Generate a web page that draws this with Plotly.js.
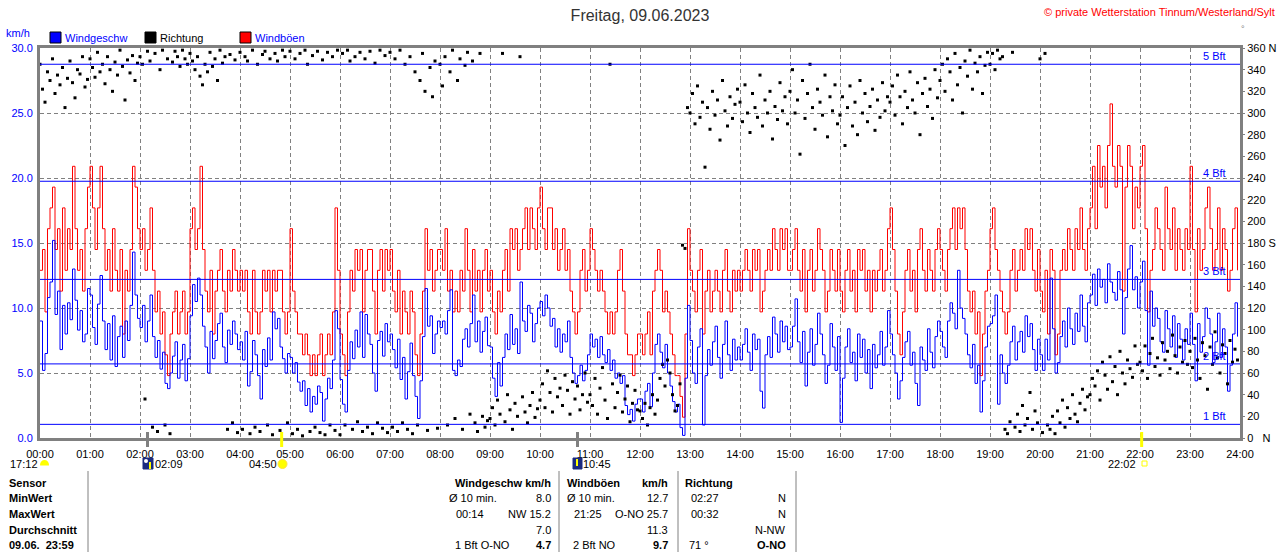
<!DOCTYPE html>
<html>
<head>
<meta charset="utf-8">
<script src="https://cdn.plot.ly/plotly-3.0.1.min.js"></script>
<style>
  body { margin: 0; background: #fff; }
  #chart { width: 1280px; height: 552px; }
</style>
</head>
<body>
<div id="chart"></div>
<script>
// Messwerte im 3-Minuten-Raster, eine Zeile pro Stunde (00:00 ... 23:57)
const wind = [
  9.0, 5.2, 6.5, 10.8, 12.0, 15.2, 9.5, 11.3, 6.8, 10.2, 8.0, 10.4, 9.1, 13.0, 10.6, 8.3, 9.8, 7.4, 8.0, 11.5,
  11.0, 8.5, 7.2, 10.3, 12.5, 9.0, 6.8, 8.8, 6.0, 9.4, 5.5, 7.8, 8.6, 6.2, 9.0, 7.5, 10.2, 14.3, 11.0, 9.2,
  8.5, 10.2, 7.4, 9.0, 11.0, 7.8, 6.2, 7.5, 5.3, 6.6, 4.2, 3.8, 5.0, 6.3, 7.4, 4.6, 6.0, 7.2, 4.4, 6.1,
  9.4, 11.8, 10.5, 12.3, 11.0, 8.6, 7.0, 5.0, 8.2, 6.1, 7.5, 8.8, 9.6, 7.0, 5.8, 8.3, 7.2, 9.0, 8.0, 6.8,
  7.4, 6.0, 8.2, 4.0, 5.1, 7.5, 6.4, 4.8, 3.0, 6.8, 5.5, 7.7, 6.0, 9.7, 8.4, 9.2, 7.0, 6.1, 5.0, 6.5,
  6.2, 5.0, 5.8, 4.3, 3.6, 4.4, 2.5, 3.8, 2.0, 3.2, 2.6, 4.0, 3.5, 1.3, 3.0, 4.6, 3.8, 6.0, 9.8, 8.4,
  4.5, 2.6, 2.0, 5.2, 7.4, 6.1, 8.3, 7.0, 9.7, 6.2, 9.5, 8.0, 7.2, 5.0, 3.6, 7.5, 8.2, 6.3, 8.8, 7.4,
  8.0, 6.8, 5.4, 7.6, 4.5, 6.2, 3.0, 5.1, 7.3, 4.8, 3.2, 1.5, 4.4, 7.8, 11.5, 8.6, 9.4, 6.5, 8.0, 9.0,
  8.5, 9.0, 8.0, 9.8, 11.4, 5.2, 4.8, 6.0, 5.5, 7.6, 8.4, 7.0, 8.8, 11.0, 7.4, 9.0, 6.6, 8.2, 9.3, 7.1,
  7.0, 4.6, 3.2, 5.8, 4.0, 6.2, 8.0, 6.8, 9.5, 7.2, 8.4, 6.5, 12.0, 9.0, 8.2, 10.2, 9.6, 7.4, 8.8, 10.0,
  10.5, 9.4, 11.0, 10.0, 8.6, 9.2, 7.0, 8.4, 6.6, 8.0, 7.4, 9.0, 6.2, 5.0, 4.2, 4.8, 5.6, 4.4, 5.2, 6.4,
  8.0, 7.0, 7.6, 6.2, 7.8, 6.4, 5.8, 6.8, 5.2, 6.0, 4.6, 5.0, 4.2, 4.8, 2.5, 1.8, 2.2, 1.3, 2.6, 3.0,
  3.0, 2.0, 3.6, 4.2, 2.4, 5.0, 7.2, 8.0, 6.6, 5.4, 7.2, 5.0, 4.0, 2.8, 2.0, 2.6, 0.8, 0.2, 4.6, 10.2,
  7.5, 5.0, 4.2, 7.0, 8.4, 1.0, 4.8, 6.8, 5.6, 7.4, 8.6, 6.2, 4.6, 7.2, 9.0, 6.4, 5.2, 7.6, 6.0, 7.0,
  6.0, 7.2, 8.4, 6.6, 5.2, 8.0, 6.8, 7.6, 3.6, 2.3, 6.4, 7.8, 6.2, 9.3, 8.0, 6.6, 9.0, 7.4, 8.6, 6.8,
  7.0, 8.6, 10.7, 7.4, 5.8, 8.2, 4.0, 6.6, 8.4, 5.6, 7.2, 9.6, 8.0, 6.4, 4.2, 5.6, 8.8, 7.0, 5.2, 7.8,
  1.2, 4.6, 7.0, 8.4, 5.8, 6.6, 4.4, 8.0, 6.2, 7.6, 5.0, 6.8, 3.8, 7.2, 5.4, 6.4, 8.2, 5.6, 7.0, 9.8,
  8.0, 6.4, 5.0, 3.0, 4.4, 6.2, 7.4, 8.2, 5.6, 6.6, 4.2, 2.5, 7.0, 6.0, 5.2, 8.4, 6.6, 5.4, 7.8, 9.0,
  8.2, 7.0, 6.2, 9.0, 10.4, 9.6, 8.4, 12.9, 10.0, 9.2, 8.0, 6.4, 5.4, 7.2, 4.2, 5.6, 2.0, 4.4, 7.0, 8.6,
  8.8, 9.4, 11.0, 2.6, 6.4, 5.0, 4.2, 5.6, 7.4, 8.6, 6.0, 7.4, 8.2, 6.6, 9.4, 7.8, 8.8, 6.8, 5.2, 7.6,
  6.4, 5.2, 7.6, 6.0, 12.3, 8.4, 5.0, 5.8, 7.8, 9.0, 7.0, 10.0, 8.4, 7.2, 9.6, 8.2, 11.0, 8.6, 7.4, 10.4,
  11.0, 12.6, 10.2, 13.0, 11.6, 12.2, 10.4, 13.4, 12.0, 11.2, 10.6, 12.8, 11.4, 8.0, 10.8, 13.0, 14.8, 11.4, 12.4, 10.0,
  12.0, 13.6, 9.8, 5.6, 11.3, 8.6, 10.0, 9.2, 7.4, 6.6, 9.8, 8.4, 7.0, 9.4, 6.2, 8.8, 7.6, 6.0, 8.4, 7.2,
  9.6, 7.2, 4.4, 8.8, 6.6, 7.8, 10.0, 9.2, 8.0, 5.8, 7.4, 9.6, 6.2, 8.4, 7.0, 3.6, 5.6, 8.0, 10.4, 7.8
];

const gust = [
  12.9, 14.5, 9.7, 16.1, 17.7, 19.3, 14.5, 16.1, 11.3, 17.7, 12.9, 16.1, 14.5, 20.9, 16.1, 12.9, 14.5, 11.3, 16.1, 19.3,
  20.9, 17.7, 14.5, 17.7, 20.9, 16.1, 12.9, 14.5, 11.3, 16.1, 12.9, 11.3, 14.5, 8.0, 12.9, 11.3, 14.5, 20.9, 19.3, 16.1,
  14.5, 16.1, 12.9, 14.5, 17.7, 12.9, 9.7, 11.3, 8.0, 9.7, 6.4, 4.8, 8.0, 9.7, 11.3, 8.0, 9.7, 11.3, 8.0, 9.7,
  16.1, 17.7, 14.5, 16.1, 20.9, 14.5, 11.3, 9.7, 12.9, 8.0, 11.3, 12.9, 14.5, 11.3, 9.7, 12.9, 11.3, 14.5, 12.9, 11.3,
  12.9, 11.3, 12.9, 9.7, 8.0, 12.9, 9.7, 8.0, 9.7, 12.9, 11.3, 12.9, 9.7, 12.9, 11.3, 12.9, 12.9, 9.7, 8.0, 9.7,
  16.1, 11.3, 9.7, 8.0, 8.0, 6.4, 8.0, 6.4, 4.8, 6.4, 4.8, 6.4, 8.0, 4.8, 6.4, 8.0, 6.4, 9.7, 17.7, 12.9,
  8.0, 6.4, 4.8, 9.7, 12.9, 11.3, 14.5, 12.9, 14.5, 9.7, 12.9, 14.5, 14.5, 11.3, 8.0, 12.9, 14.5, 11.3, 14.5, 12.9,
  14.5, 11.3, 9.7, 12.9, 8.0, 11.3, 9.7, 8.0, 11.3, 9.7, 6.4, 4.8, 8.0, 11.3, 16.1, 12.9, 14.5, 11.3, 12.9, 14.5,
  14.5, 12.9, 16.1, 11.3, 12.9, 9.7, 11.3, 9.7, 12.9, 11.3, 16.1, 12.9, 9.7, 14.5, 11.3, 12.9, 9.7, 12.9, 14.5, 11.3,
  12.9, 9.7, 8.0, 11.3, 9.7, 12.9, 14.5, 11.3, 16.1, 14.5, 16.1, 12.9, 14.5, 16.1, 17.7, 14.5, 17.7, 16.1, 14.5, 17.7,
  19.3, 16.1, 14.5, 17.7, 17.7, 14.5, 16.1, 12.9, 14.5, 16.1, 12.9, 14.5, 11.3, 9.7, 8.0, 9.7, 12.9, 14.5, 11.3, 12.9,
  16.1, 14.5, 12.9, 11.3, 12.9, 11.3, 9.7, 8.0, 9.7, 8.0, 9.7, 12.9, 14.5, 11.3, 8.0, 6.4, 6.4, 4.8, 6.4, 8.0,
  8.0, 6.4, 8.0, 9.7, 6.4, 11.3, 12.9, 14.5, 12.9, 9.7, 11.3, 9.7, 8.0, 6.4, 4.8, 4.8, 3.2, 1.6, 8.0, 16.1,
  12.9, 11.3, 9.7, 12.9, 14.5, 8.0, 11.3, 12.9, 9.7, 11.3, 12.9, 11.3, 9.7, 12.9, 14.5, 11.3, 9.7, 12.9, 11.3, 12.9,
  11.3, 12.9, 14.5, 12.9, 11.3, 14.5, 12.9, 14.5, 9.7, 11.3, 12.9, 14.5, 12.9, 16.1, 14.5, 12.9, 16.1, 14.5, 16.1, 12.9,
  12.9, 14.5, 16.1, 12.9, 11.3, 14.5, 9.7, 12.9, 14.5, 11.3, 12.9, 16.1, 14.5, 12.9, 9.7, 11.3, 14.5, 12.9, 11.3, 14.5,
  11.3, 9.7, 12.9, 14.5, 11.3, 12.9, 9.7, 14.5, 12.9, 14.5, 11.3, 12.9, 9.7, 12.9, 11.3, 12.9, 14.5, 11.3, 12.9, 16.1,
  17.7, 14.5, 11.3, 8.0, 6.4, 9.7, 12.9, 14.5, 11.3, 12.9, 9.7, 14.5, 16.1, 12.9, 11.3, 14.5, 12.9, 11.3, 14.5, 16.1,
  14.5, 12.9, 11.3, 14.5, 16.1, 17.7, 14.5, 17.7, 16.1, 17.7, 14.5, 11.3, 9.7, 11.3, 8.0, 9.7, 4.8, 8.0, 11.3, 12.9,
  16.1, 17.7, 14.5, 12.9, 11.3, 9.7, 8.0, 9.7, 12.9, 14.5, 11.3, 12.9, 14.5, 12.9, 16.1, 14.5, 16.1, 12.9, 11.3, 14.5,
  11.3, 9.7, 12.9, 8.0, 14.5, 12.9, 6.4, 8.0, 12.9, 14.5, 12.9, 16.1, 14.5, 12.9, 16.1, 14.5, 17.7, 14.5, 12.9, 16.1,
  17.7, 20.9, 16.1, 22.5, 19.3, 20.9, 17.7, 22.5, 25.7, 20.9, 19.3, 22.5, 20.9, 11.3, 19.3, 22.5, 20.9, 16.1, 19.3, 17.7,
  20.9, 22.5, 16.1, 9.7, 12.9, 14.5, 17.7, 16.1, 14.5, 12.9, 19.3, 16.1, 14.5, 17.7, 12.9, 16.1, 14.5, 12.9, 16.1, 14.5,
  20.9, 14.5, 9.7, 16.1, 12.9, 14.5, 17.7, 19.3, 16.1, 12.9, 14.5, 17.7, 12.9, 16.1, 14.5, 11.3, 12.9, 16.1, 17.7, 12.9
];

// Windrichtung in Grad, gleiches Raster
const richtung = [
  345, 322, 310, 338, 330, 350, 318, 335, 326, 342, 305, 332, 348, 328, 314, 340, 336, 352, 324, 331,
  350, 342, 333, 356, 338, 345, 327, 352, 340, 320, 347, 335, 358, 343, 312, 349, 337, 353, 330, 346,
  352, 345, 36, 357, 348, 10, 355, 6, 340, 358, 12, 350, 4, 347, 357, 352, 343, 358, 350, 345,
  355, 348, 340, 352, 334, 326, 345, 338, 356, 343, 350, 330, 358, 346, 352, 8, 354, 14, 349, 5,
  356, 8, 352, 348, 4, 358, 10, 345, 6, 354, 357, 12, 350, 3, 355, 348, 7, 358, 352, 14,
  357, 4, 350, 8, 355, 2, 358, 345, 6, 353, 10, 357, 5, 349, 3, 356, 12, 352, 7, 358,
  3, 355, 12, 358, 348, 8, 352, 15, 356, 6, 350, 10, 357, 4, 346, 14, 358, 9, 353, 5,
  356, 10, 350, 6, 358, 14, 345, 8, 352, 4, 338, 12, 330, 355, 320, 7, 342, 315, 348, 9,
  345, 325, 352, 12, 338, 358, 18, 330, 350, 8, 344, 356, 22, 348, 14, 6, 355, 20, 10, 16,
  18, 28, 12, 35, 22, 355, 15, 40, 26, 8, 32, 20, 352, 38, 24, 14, 30, 42, 19, 27,
  35, 50, 28, 62, 42, 24, 55, 38, 46, 30, 58, 44, 22, 52, 36, 48, 26, 40, 60, 33,
  40, 30, 55, 22, 46, 65, 35, 18, 345, 50, 28, 42, 58, 24, 36, 48, 15, 32, 44, 26,
  25, 18, 32, 12, 28, 40, 22, 35, 55, 68, 48, 72, 60, 40, 25, 30, 50, 178, 175, 305,
  300, 318, 290, 325, 296, 310, 250, 305, 285, 320, 298, 312, 275, 330, 302, 288, 315, 295, 308, 322,
  310, 292, 326, 300, 282, 318, 305, 296, 335, 288, 312, 300, 320, 276, 306, 294, 328, 302, 315, 290,
  320, 340, 300, 312, 262, 330, 295, 318, 345, 305, 285, 322, 310, 298, 335, 278, 315, 302, 326, 290,
  298, 315, 270, 305, 325, 288, 310, 280, 330, 300, 318, 292, 306, 322, 284, 312, 296, 328, 302, 315,
  310, 325, 298, 335, 315, 290, 320, 305, 338, 312, 300, 328, 280, 318, 332, 306, 322, 295, 340, 314,
  330, 345, 320, 350, 338, 312, 355, 326, 342, 300, 348, 334, 358, 322, 346, 338, 352, 318, 344, 356,
  345, 355, 340, 358, 350, 352, 8, 4, 15, 356, 10, 22, 6, 30, 12, 18, 42, 8, 25, 14,
  350, 5, 355, 12, 8, 20, 4, 25, 14, 35, 10, 28, 18, 40, 22, 15, 32, 45, 26, 38,
  40, 55, 48, 62, 35, 70, 58, 45, 75, 52, 66, 40, 80, 60, 50, 72, 64, 56, 85, 68,
  70, 62, 85, 55, 78, 92, 66, 74, 58, 88, 72, 80, 64, 95, 76, 60, 84, 70, 90, 68,
  80, 65, 92, 72, 55, 88, 76, 45, 84, 68, 98, 74, 60, 86, 78, 50, 90, 70, 82, 72
];

const stunden = ["00:00", "01:00", "02:00", "03:00", "04:00", "05:00", "06:00", "07:00", "08:00",
  "09:00", "10:00", "11:00", "12:00", "13:00", "14:00", "15:00", "16:00", "17:00", "18:00",
  "19:00", "20:00", "21:00", "22:00", "23:00", "24:00"];
const gradTicks = [0, 20, 40, 60, 80, 100, 120, 140, 160, 180, 200, 220, 240, 260, 280, 300, 320, 340, 360];
const gradLabels = ["0   N", "20", "40", "60", "80", "100", "120", "140", "160", "180 S", "200", "220",
  "240", "260", "280", "300", "320", "340", "360 N"];

// Beaufort-Grenzen in km/h
const bftWerte = [1.05, 5.7, 12.2, 19.75, 28.75];
const bftNamen = ["1 Bft", "2 Bft", "3 Bft", "4 Bft", "5 Bft"];

// Sonne / Mond (Stunde, Text)
const mondAuf = [17.2, "17:12"];
const mondUnter1 = [2.15, "02:09"];
const sonneAuf = [4.833, "04:50"];
const mondUnter2 = [10.75, "10:45"];
const sonneUnter = [22.033, "22:02"];

// Tabelle unten
const zeilen = ["Sensor", "MinWert", "MaxWert", "Durchschnitt", "09.06.  23:59"];
const windTab = [["Ø 10 min.", "8.0"], ["00:14", "NW 15.2"], ["", "7.0"], ["1 Bft O-NO", "<b>4.7</b>"]];
const boeTab = [["Ø 10 min.", "12.7"], ["21:25", "O-NO 25.7"], ["", "11.3"], ["2 Bft NO", "<b>9.7</b>"]];
const richtTab = [["02:27", "N"], ["00:32", "N"], ["", "N-NW"], ["71 °", "<b>O-NO</b>"]];

const zeit = wind.map((v, i) => i * 3 / 60);

const FONT = "Liberation Sans, Arial, sans-serif";
const BLAU = "#0000ff";
const ROT = "#ff0000";
const GRAU = "#808080";

// Pixel -> Papierkoordinaten (Plotfläche 40..1240 x 48..438)
const PX = px => (px - 40) / 1200;
const PY = py => (438 - py) / 390;

let annotations = [];
let shapes = [];

const txt = (text, px, py, anchor, color, size) => {
  annotations.push({
    text: text, x: PX(px), y: PY(py), xref: "paper", yref: "paper",
    xanchor: anchor, yanchor: "middle", showarrow: false, borderpad: 0,
    font: { family: FONT, size: size || 11, color: color || "#000" }
  });
};

const rect = (x0, y0, x1, y1, fill, line) => {
  shapes.push({
    type: "rect", xref: "paper", yref: "paper",
    x0: PX(x0), x1: PX(x1), y0: PY(y0), y1: PY(y1),
    fillcolor: fill, line: { color: line || fill, width: 1 }, layer: "above"
  });
};

// Kopf und Legende
txt("© private Wetterstation Tinnum/Westerland/Sylt", 1276, 12, "right", ROT, 11);
txt("°", 1243, 29, "center", GRAU, 9);
txt("km/h", 5, 33, "left", BLAU, 11);
rect(50, 32, 61, 43, BLAU, "#000");
txt("Windgeschw", 64, 38, "left", BLAU, 11);
rect(145, 32, 156, 43, "#000", "#000");
txt("Richtung", 159, 38, "left", "#000", 11);
rect(240, 32, 251, 43, ROT, "#000");
txt("Windböen", 254, 38, "left", BLAU, 11);

// Beaufort-Linien
bftWerte.forEach((b, i) => {
  shapes.push({
    type: "line", xref: "paper", yref: "y", x0: 0, x1: 1, y0: b, y1: b,
    line: { color: BLAU, width: 1 }, layer: "above"
  });
  annotations.push({
    text: bftNamen[i], x: PX(1227), y: b, xref: "paper", yref: "y",
    xanchor: "right", yanchor: "bottom", yshift: 1, showarrow: false, borderpad: 0,
    font: { family: FONT, size: 11, color: BLAU }
  });
});

// Markierungen an der Zeitachse
const marke = (h, color) => {
  shapes.push({
    type: "line", xref: "x", yref: "paper", x0: h, x1: h, y0: PY(432), y1: PY(447),
    line: { color: color, width: 3 }, layer: "above"
  });
};
marke(mondUnter1[0], GRAU);
marke(sonneAuf[0], "#ffff00");
marke(mondUnter2[0], GRAU);
marke(sonneUnter[0], "#ffff00");

// Sonne / Mond Zeile
txt(mondAuf[1], 9, 464, "left");
shapes.push({ type: "circle", xref: "paper", yref: "paper", x0: PX(40), x1: PX(49), y0: PY(460), y1: PY(470),
  fillcolor: "#ffff00", line: { width: 0 }, layer: "above" });
rect(39, 466, 50, 471, "#fff", "#fff");
rect(143, 458, 153, 469, "#1a2a80", "#1a2a80");
shapes.push({ type: "circle", xref: "paper", yref: "paper", x0: PX(144), x1: PX(148), y0: PY(459), y1: PY(463),
  fillcolor: "#fff", line: { width: 0 }, layer: "above" });
shapes.push({ type: "line", xref: "paper", yref: "paper", x0: PX(150), x1: PX(150), y0: PY(462), y1: PY(469),
  line: { color: "#ffff00", width: 2 }, layer: "above" });
txt(mondUnter1[1], 154, 464, "left");
txt(sonneAuf[1], 278, 464, "right");
shapes.push({ type: "circle", xref: "paper", yref: "paper", x0: PX(278), x1: PX(287), y0: PY(459.5), y1: PY(468.5),
  fillcolor: "#ffff00", line: { color: "#ffe040", width: 1 }, layer: "above" });
rect(573, 458, 582, 469, "#1a2a80", "#1a2a80");
shapes.push({ type: "line", xref: "paper", yref: "paper", x0: PX(577), x1: PX(577), y0: PY(459), y1: PY(466),
  line: { color: "#ffff00", width: 2 }, layer: "above" });
txt(mondUnter2[1], 582, 464, "left");
txt(sonneUnter[1], 1137, 464, "right");
rect(1142, 461, 1147, 466, "#fff", "#ffff00");

// Tabelle
[88, 559, 678, 796].forEach(x => {
  shapes.push({ type: "line", xref: "paper", yref: "paper", x0: PX(x), x1: PX(x), y0: PY(471), y1: PY(553),
    line: { color: GRAU, width: 1 }, layer: "above" });
});
const zeilenY = [483, 498.5, 514, 529.5, 544.5];
zeilen.forEach((z, i) => txt("<b>" + z + "</b>", 8, zeilenY[i], "left"));
txt("<b>Windgeschw km/h</b>", 552, zeilenY[0], "right");
txt("<b>Windböen</b>", 566, zeilenY[0], "left");
txt("<b>km/h</b>", 669, zeilenY[0], "right");
txt("<b>Richtung</b>", 684, zeilenY[0], "left");
const linksX = [[448, 455, 448, 454], [566, 573, 566, 572], [690, 690, 690, 688]];
[windTab, boeTab, richtTab].forEach((tab, c) => {
  const rechts = [552, 669, 787][c];
  tab.forEach((r, i) => {
    if (r[0]) txt(r[0], linksX[c][i], zeilenY[i + 1], "left");
    txt(r[1], rechts, zeilenY[i + 1], "right");
  });
});

const data = [
  {
    x: zeit, y: gust, type: "scatter", mode: "lines", name: "Windböen",
    line: { color: ROT, width: 1, shape: "hv" }
  },
  {
    x: zeit, y: wind, type: "scatter", mode: "lines", name: "Windgeschw",
    line: { color: BLAU, width: 1, shape: "hv" }
  },
  {
    x: zeit, y: richtung, type: "scatter", mode: "markers", name: "Richtung", yaxis: "y2",
    marker: { color: "#000", size: 3, symbol: "square", line: { width: 0 } }
  }
];

const layout = {
  width: 1280, height: 552,
  margin: { l: 40, r: 40, t: 48, b: 114, pad: 0 },
  paper_bgcolor: "#fff", plot_bgcolor: "#fff",
  showlegend: false,
  font: { family: FONT, size: 11, color: "#000" },
  title: {
    text: "Freitag, 09.06.2023", x: 0.5, xanchor: "center",
    y: 1 - 15 / 552, yanchor: "middle", yref: "container",
    font: { family: FONT, size: 16, color: "#333" }
  },
  xaxis: {
    range: [0, 24], tickvals: stunden.map((s, i) => i), ticktext: stunden,
    showgrid: true, gridcolor: GRAU, griddash: "4px,3px", gridwidth: 1,
    showline: true, linecolor: GRAU, linewidth: 3, mirror: true,
    zeroline: false, ticks: "", ticklabelstandoff: 4,
    tickfont: { family: FONT, size: 11, color: "#000" }
  },
  yaxis: {
    range: [0, 30], tickvals: [0, 5, 10, 15, 20, 25, 30], tickformat: ".1f",
    showgrid: true, gridcolor: GRAU, griddash: "4px,3px", gridwidth: 1,
    showline: true, linecolor: GRAU, linewidth: 3, mirror: true,
    zeroline: false, ticks: "", ticklabelstandoff: 2,
    tickfont: { family: FONT, size: 11, color: BLAU }
  },
  yaxis2: {
    range: [0, 360], overlaying: "y", side: "right",
    tickvals: gradTicks, ticktext: gradLabels,
    showgrid: false, zeroline: false, showline: false,
    ticks: "outside", ticklen: 4, tickcolor: GRAU, tickwidth: 1,
    tickfont: { family: FONT, size: 11, color: "#000" }
  },
  shapes: shapes,
  annotations: annotations
};

Plotly.newPlot("chart", data, layout, { displayModeBar: false, staticPlot: true });
</script>
</body>
</html>
